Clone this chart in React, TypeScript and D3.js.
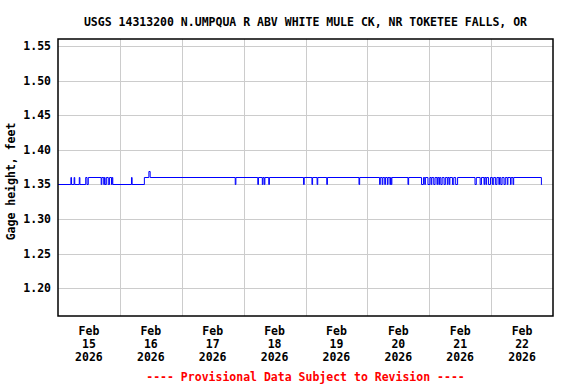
import { useEffect, useRef } from "react";
import * as d3 from "d3";

const title = "USGS 14313200 N.UMPQUA R ABV WHITE MULE CK, NR TOKETEE FALLS, OR";
const yLabel = "Gage height, feet";
const footer = "---- Provisional Data Subject to Revision ----";

// hours after Feb 15 2026 00:00 where the gage reading changes, and the new reading
const changeHours = [
  0, 5.0, 5.25, 6.25, 6.5, 8.25, 8.5, 10.75, 11.25, 11.75,
  16.75, 17.0, 17.75, 18.0, 18.25, 18.75, 19.5, 20.0, 20.75, 21.0, 21.25,
  28.5, 28.75, 33.5, 35.25, 35.75,
  68.75, 69.0, 77.5, 77.75, 79.25, 79.5, 80.0, 80.25, 81.75, 82.0,
  95.25, 95.5, 98.5, 98.75, 100.5, 100.75, 104.25, 104.5, 116.75, 117.0,
  124.75, 125.0, 125.75, 126.0, 126.75, 127.0, 127.75, 128.0,
  128.75, 129.0, 129.25, 129.5, 135.75, 136.0,
  141.0, 141.75, 142.25, 142.5, 143.5, 144.25, 144.75, 145.0, 145.75, 146.25,
  147.0, 147.25, 147.75, 148.0, 148.5, 149.0, 149.75, 150.25, 151.0, 151.25,
  151.75, 152.0, 153.0, 153.5, 154.25, 155.0,
  161.75, 162.25, 163.75, 164.25, 165.25, 165.5, 166.0, 166.25, 167.0, 167.75,
  168.5, 169.0, 169.75, 170.25, 171.0, 171.25, 171.75, 172.25, 173.0, 173.5,
  174.25, 174.5, 175.5, 175.75, 176.5, 176.75, 187.5, 187.75,
];
const changeValues = [
  1.35, 1.36, 1.35, 1.36, 1.35, 1.36, 1.35, 1.36, 1.35, 1.36,
  1.35, 1.36, 1.35, 1.36, 1.35, 1.36, 1.35, 1.36, 1.35, 1.36, 1.35,
  1.36, 1.35, 1.36, 1.37, 1.36,
  1.35, 1.36, 1.35, 1.36, 1.35, 1.36, 1.35, 1.36, 1.35, 1.36,
  1.35, 1.36, 1.35, 1.36, 1.35, 1.36, 1.35, 1.36, 1.35, 1.36,
  1.35, 1.36, 1.35, 1.36, 1.35, 1.36, 1.35, 1.36,
  1.35, 1.36, 1.35, 1.36, 1.35, 1.36,
  1.35, 1.36, 1.35, 1.36, 1.35, 1.36, 1.35, 1.36, 1.35, 1.36,
  1.35, 1.36, 1.35, 1.36, 1.35, 1.36, 1.35, 1.36, 1.35, 1.36,
  1.35, 1.36, 1.35, 1.36, 1.35, 1.36,
  1.35, 1.36, 1.35, 1.36, 1.35, 1.36, 1.35, 1.36, 1.35, 1.36,
  1.35, 1.36, 1.35, 1.36, 1.35, 1.36, 1.35, 1.36, 1.35, 1.36,
  1.35, 1.36, 1.35, 1.36, 1.35, 1.36, 1.35, 1.35,
];

const yTicks = [1.2, 1.25, 1.3, 1.35, 1.4, 1.45, 1.5, 1.55];
const dayMonths = ["Feb", "Feb", "Feb", "Feb", "Feb", "Feb", "Feb", "Feb"];
const dayNumbers = ["15", "16", "17", "18", "19", "20", "21", "22"];
const dayYears = ["2026", "2026", "2026", "2026", "2026", "2026", "2026", "2026"];

const start = Date.UTC(2026, 1, 15);
const hourToDate = (h: number) => new Date(start + h * 3600e3);

const FONT = "'DejaVu Sans Mono', monospace";

export default function App() {
  const svgRef = useRef<SVGSVGElement>(null);

  useEffect(() => {
    const svg = d3.select(svgRef.current);
    svg.selectAll("*").remove();

    const left = 58, right = 553, top = 39, bottom = 316;

    const x = d3
      .scaleUtc()
      .domain([hourToDate(0), hourToDate(192)])
      .range([left, right]);
    const y = d3.scaleLinear().domain([1.16, 1.56]).range([bottom, top]);

    const data = changeHours.map((h, i) => ({ t: hourToDate(h), v: changeValues[i] }));

    // grid
    const midnights = d3.range(1, 8).map((d) => hourToDate(d * 24));
    svg.append("g")
      .selectAll("line")
      .data(midnights)
      .enter()
      .append("line")
      .attr("x1", (d) => Math.round(x(d)) + 0.5)
      .attr("x2", (d) => Math.round(x(d)) + 0.5)
      .attr("y1", top)
      .attr("y2", bottom)
      .attr("stroke", "#cccccc");

    svg.append("g")
      .selectAll("line")
      .data(yTicks)
      .enter()
      .append("line")
      .attr("x1", left)
      .attr("x2", right)
      .attr("y1", (d) => Math.round(y(d)) + 0.5)
      .attr("y2", (d) => Math.round(y(d)) + 0.5)
      .attr("stroke", "#cccccc");

    // data line
    const line = d3
      .line<{ t: Date; v: number }>()
      .x((d) => x(d.t))
      .y((d) => Math.round(y(d.v)) + 0.5)
      .curve(d3.curveStepAfter);

    svg.append("path")
      .datum(data)
      .attr("fill", "none")
      .attr("stroke", "#0000ff")
      .attr("stroke-width", 1)
      .attr("d", line);

    // frame
    svg.append("rect")
      .attr("x", left)
      .attr("y", top)
      .attr("width", right - left)
      .attr("height", bottom - top)
      .attr("fill", "none")
      .attr("stroke", "black")
      .attr("stroke-width", 1.5);

    const txt = (sel: any) =>
      sel
        .attr("font-family", FONT)
        .attr("font-weight", "bold")
        .attr("font-size", 11.5)
        .attr("fill", "black");

    // y tick labels
    svg.append("g")
      .selectAll("text")
      .data(yTicks)
      .enter()
      .append("text")
      .call(txt)
      .attr("x", 51)
      .attr("y", (d) => y(d) + 4)
      .attr("text-anchor", "end")
      .text((d) => d.toFixed(2));

    // x labels at noon
    const noons = dayNumbers.map((_, i) => x(hourToDate(i * 24 + 12)));
    [dayMonths, dayNumbers, dayYears].forEach((row, r) => {
      svg.append("g")
        .selectAll("text")
        .data(row)
        .enter()
        .append("text")
        .call(txt)
        .attr("x", (_, i) => noons[i])
        .attr("y", 335 + r * 13)
        .attr("text-anchor", "middle")
        .text((d) => d);
    });

    svg.append("text")
      .call(txt)
      .attr("x", (left + right) / 2)
      .attr("y", 26)
      .attr("text-anchor", "middle")
      .text(title);

    svg.append("text")
      .call(txt)
      .attr("transform", `translate(15,${(top + bottom) / 2 + 4}) rotate(-90)`)
      .attr("text-anchor", "middle")
      .text(yLabel);

    svg.append("text")
      .call(txt)
      .attr("fill", "#ff0000")
      .attr("x", (left + right) / 2)
      .attr("y", 381)
      .attr("text-anchor", "middle")
      .text(footer);
  }, []);

  return (
    <svg
      ref={svgRef}
      width={576}
      height={384}
      style={{ position: "absolute", left: 0, top: 0, background: "white" }}
    />
  );
}
